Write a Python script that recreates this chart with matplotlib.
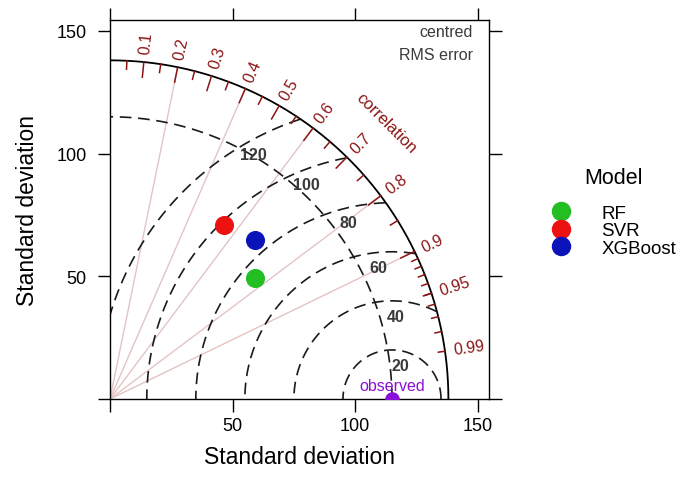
import numpy as np
import matplotlib
matplotlib.use('Agg')
import matplotlib.pyplot as plt
from matplotlib.lines import Line2D

plt.rcParams['font.family'] = ['Liberation Sans', 'DejaVu Sans']

# ---- data ----
models = ['RF', 'SVR', 'XGBoost']
model_sd = [77.1, 84.8, 87.9]
model_r = [0.769, 0.546, 0.675]
model_colors = ['#22BE22', '#EE1111', '#0A14B8']
legend_title = 'Model'
obs_sd = 115.0
obs_label = 'observed'
rms_levels = [20, 40, 60, 80, 100, 120]
corr_major = [0.1, 0.2, 0.3, 0.4, 0.5, 0.6, 0.7, 0.8, 0.9]
corr_medium = [0.05, 0.15, 0.25, 0.35, 0.45, 0.55, 0.65, 0.75, 0.85, 0.95]
corr_small = [0.91, 0.92, 0.93, 0.94, 0.95, 0.96, 0.97, 0.98, 0.99]
corr_labels = ['0.1', '0.2', '0.3', '0.4', '0.5', '0.6', '0.7', '0.8', '0.9', '0.95', '0.99']
corr_grid = [0.2, 0.4, 0.6, 0.8, 0.9]
axis_ticks = [0, 50, 100, 150]
axis_ticklabels = ['', '50', '100', '150']

DARKRED = '#8B1414'
PURPLE = '#8A10D8'
GREY = '#3A3A3A'
DASH = (7, 4)

fig = plt.figure(figsize=(6.94, 4.81), dpi=100)
ax = fig.add_axes([110 / 694, 1 - 400 / 481, 379 / 694, 379.3 / 481])
maxsd = 1.2 * obs_sd
lim = 1.12 * maxsd
ax.set_xlim(0, lim)
ax.set_ylim(0, lim)

for s in ax.spines.values():
    s.set_linewidth(1.0)
    s.set_color('black')

ax.set_xticks(axis_ticks)
ax.set_xticklabels(axis_ticklabels)
ax.set_yticks(axis_ticks)
ax.set_yticklabels(axis_ticklabels)
ax.tick_params(axis='both', direction='out', length=9, width=1.0, top=True, right=True,
               labeltop=False, labelright=False, labelsize=13)
ax.tick_params(axis='x', pad=4)
ax.tick_params(axis='y', pad=8)
ax.set_xlabel('Standard deviation', fontsize=16.5, labelpad=8)
ax.set_ylabel('Standard deviation', fontsize=16.5, labelpad=12)

# correlation grid rays
for c in corr_grid:
    ax.plot([0, maxsd * c], [0, maxsd * np.sqrt(1 - c * c)], color='#E4C4C4', lw=1.0, zorder=1)

# outer arc
th = np.linspace(0, np.pi / 2, 300)
ax.plot(maxsd * np.cos(th), maxsd * np.sin(th), color='black', lw=1.3, zorder=2)

# observed sd arc
ax.plot(obs_sd * np.cos(th), obs_sd * np.sin(th), color='#1A1A1A', lw=1.2,
        dashes=DASH, zorder=2)

# centred RMS arcs
phi = np.linspace(0, np.pi, 600)
for g in rms_levels:
    xc = obs_sd + g * np.cos(phi)
    yc = g * np.sin(phi)
    out = xc ** 2 + yc ** 2 > maxsd ** 2
    xc = np.where(out, np.nan, xc)
    yc = np.where(out, np.nan, yc)
    ax.plot(xc, yc, color='#1A1A1A', lw=1.2, dashes=DASH, zorder=2)

lab_ang = np.radians(np.linspace(80, 118, len(rms_levels)))
for g, a in zip(rms_levels, lab_ang):
    ax.annotate(str(g), (obs_sd + g * np.cos(a), g * np.sin(a)), xytext=(0, -11),
                textcoords='offset points', ha='center', va='center', fontsize=11.5,
                fontweight='bold', color=GREY, zorder=4)

# correlation ticks
def arc_ticks(vals, inner):
    for c in vals:
        t = np.arccos(c)
        ax.plot([maxsd * np.cos(t), inner * maxsd * np.cos(t)],
                [maxsd * np.sin(t), inner * maxsd * np.sin(t)], color=DARKRED, lw=1.1, zorder=3)

arc_ticks(corr_major, 0.955)
arc_ticks(corr_medium, 0.975)
arc_ticks(corr_small, 0.98)

for lab in corr_labels:
    c = float(lab)
    t = np.arccos(c)
    ax.text(1.025 * maxsd * np.cos(t), 1.025 * maxsd * np.sin(t), lab, rotation=np.degrees(t),
            rotation_mode='anchor', ha='left', va='center', fontsize=11.5, color=DARKRED)

ax.text(1.155 * maxsd * np.cos(np.pi / 4), 1.155 * maxsd * np.sin(np.pi / 4), 'correlation',
        rotation=-45, rotation_mode='anchor', ha='center', va='center', fontsize=12, color=DARKRED)

ax.text(0.958, 0.968, 'centred', transform=ax.transAxes, ha='right', va='center',
        fontsize=11.5, color=GREY)
ax.text(0.958, 0.907, 'RMS error', transform=ax.transAxes, ha='right', va='center',
        fontsize=11.5, color=GREY)

# observed point
ax.plot([obs_sd], [0], 'o', color=PURPLE, ms=9.5, zorder=5, clip_on=True)
ax.annotate(obs_label, (obs_sd, 0), xytext=(0, 10), textcoords='offset points',
            ha='center', va='center', fontsize=11.5, color=PURPLE, zorder=5)

# model points
for sd, r, col in zip(model_sd, model_r, model_colors):
    t = np.arccos(r)
    ax.plot([sd * np.cos(t)], [sd * np.sin(t)], 'o', color=col, ms=12.7, zorder=6)

handles = [Line2D([], [], marker='o', ls='none', color=c, ms=13) for c in model_colors]
leg = fig.legend(handles, models, loc='upper left',
                 bbox_to_anchor=(525 / 694, 1 - 189 / 481), frameon=False, fontsize=13.5,
                 handletextpad=1.17, labelspacing=0.02,
                 borderpad=0.4, handlelength=2.0)
fig.text(613 / 694, 1 - 178 / 481, legend_title, ha='center', va='center', fontsize=15.5)

fig.savefig('out.png', dpi=100)
